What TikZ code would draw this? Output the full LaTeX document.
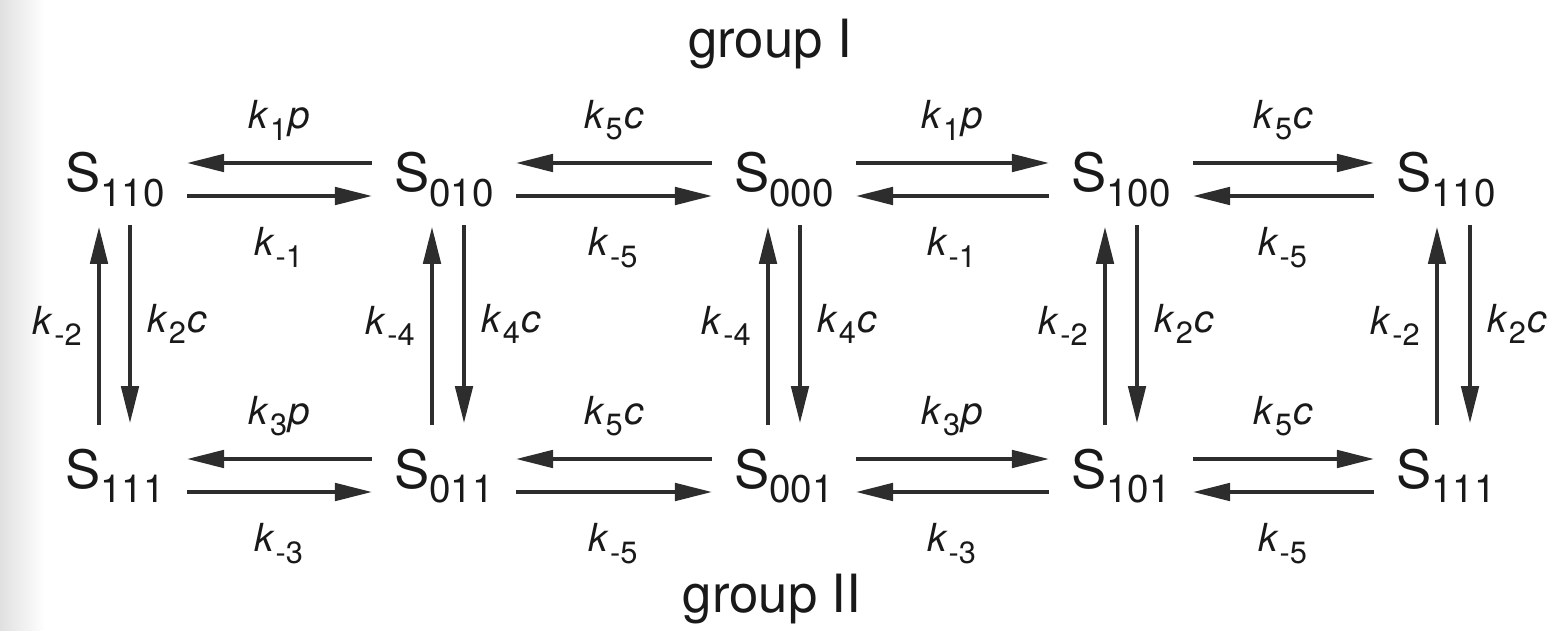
\documentclass[tikz,border=0pt]{standalone}
\usepackage{fontspec}
\setmainfont{TeX Gyre Heros}
\usetikzlibrary{positioning,arrows.meta}
\definecolor{inkgray}{RGB}{45,45,45}

% state S with lowered index
\newcommand{\stt}[1]{S\raisebox{-0.27em}{\fontsize{22}{22}\selectfont #1}}
% rate constant k_i (times p or c)
\newcommand{\rk}[2]{\textit{k}\kern0.5pt\raisebox{-0.3em}{\fontsize{17.5}{18}\selectfont #1}\kern1pt\textit{#2}}

\begin{document}
\begin{tikzpicture}[x=0.02cm, y=-0.02cm]
  \tikzset{
    state/.style={inner sep=0pt, anchor=base, text=black!90, font=\fontsize{30}{34}\selectfont},
    rate/.style={inner sep=0pt, text=black!90, font=\fontsize{22}{25}\selectfont},
    rx/.style={draw=inkgray, line width=1.8pt, -{Triangle[length=21pt, width=10pt]}},
    grouptitle/.style={anchor=base, text=black!90, font=\fontsize{30}{34}\selectfont}
  }
  \useasboundingbox (0,0) rectangle (1547,631);
  % scan shadow at the left edge
  \fill[left color=black!12, right color=white] (0,0) rectangle (45,631);

  % group I
  \node[state] (s110a) at (115,192)  {\stt{110}};
  \node[state] (s010)  at (444,192)  {\stt{010}};
  \node[state] (s000)  at (784,192)  {\stt{000}};
  \node[state] (s100)  at (1121,192) {\stt{100}};
  \node[state] (s110b) at (1446,192) {\stt{110}};

  % group II
  \node[state] (s111a) at (115,488)  {\stt{111}};
  \node[state] (s011)  at (444,488)  {\stt{011}};
  \node[state] (s001)  at (784,488)  {\stt{001}};
  \node[state] (s101)  at (1121,488) {\stt{101}};
  \node[state] (s111b) at (1446,488) {\stt{111}};

  \node[grouptitle] (gI)  at (770,58)  {group I};
  \node[grouptitle] (gII) at (772,612) {group II};

  % top row
  \draw[rx] ([shift={(-22,-29)}]s010.base west) -- node[rate, above=12pt] {\rk{1}{p}} ([shift={(22,-29)}]s110a.base east);
  \draw[rx] ([shift={(22,4)}]s110a.base east) -- node[rate, below=17pt] {\rk{-1}{}} ([shift={(-22,4)}]s010.base west);
  \draw[rx] ([shift={(-22,-29)}]s000.base west) -- node[rate, above=12pt] {\rk{5}{c}} ([shift={(22,-29)}]s010.base east);
  \draw[rx] ([shift={(22,4)}]s010.base east) -- node[rate, below=17pt] {\rk{-5}{}} ([shift={(-22,4)}]s000.base west);
  \draw[rx] ([shift={(22,-29)}]s000.base east) -- node[rate, above=12pt] {\rk{1}{p}} ([shift={(-22,-29)}]s100.base west);
  \draw[rx] ([shift={(-22,4)}]s100.base west) -- node[rate, below=17pt] {\rk{-1}{}} ([shift={(22,4)}]s000.base east);
  \draw[rx] ([shift={(22,-29)}]s100.base east) -- node[rate, above=12pt] {\rk{5}{c}} ([shift={(-22,-29)}]s110b.base west);
  \draw[rx] ([shift={(-22,4)}]s110b.base west) -- node[rate, below=17pt] {\rk{-5}{}} ([shift={(22,4)}]s100.base east);

  % bottom row
  \draw[rx] ([shift={(-22,-29)}]s011.base west) -- node[rate, above=12pt] {\rk{3}{p}} ([shift={(22,-29)}]s111a.base east);
  \draw[rx] ([shift={(22,4)}]s111a.base east) -- node[rate, below=17pt] {\rk{-3}{}} ([shift={(-22,4)}]s011.base west);
  \draw[rx] ([shift={(-22,-29)}]s001.base west) -- node[rate, above=12pt] {\rk{5}{c}} ([shift={(22,-29)}]s011.base east);
  \draw[rx] ([shift={(22,4)}]s011.base east) -- node[rate, below=17pt] {\rk{-5}{}} ([shift={(-22,4)}]s001.base west);
  \draw[rx] ([shift={(22,-29)}]s001.base east) -- node[rate, above=12pt] {\rk{3}{p}} ([shift={(-22,-29)}]s101.base west);
  \draw[rx] ([shift={(-22,4)}]s101.base west) -- node[rate, below=17pt] {\rk{-3}{}} ([shift={(22,4)}]s001.base east);
  \draw[rx] ([shift={(22,-29)}]s101.base east) -- node[rate, above=12pt] {\rk{5}{c}} ([shift={(-22,-29)}]s111b.base west);
  \draw[rx] ([shift={(-22,4)}]s111b.base west) -- node[rate, below=17pt] {\rk{-5}{}} ([shift={(22,4)}]s101.base east);

  % columns
  \draw[rx] ([shift={(-16,-63)}]s111a.base) -- node[rate, left=8pt] {\rk{-2}{}} ([shift={(-16,35)}]s110a.base);
  \draw[rx] ([shift={(15,33)}]s110a.base) -- node[rate, right=9pt] {\rk{2}{c}} ([shift={(15,-65)}]s111a.base);
  \draw[rx] ([shift={(-12,-63)}]s011.base) -- node[rate, left=8pt] {\rk{-4}{}} ([shift={(-12,35)}]s010.base);
  \draw[rx] ([shift={(20,33)}]s010.base) -- node[rate, right=9pt] {\rk{4}{c}} ([shift={(20,-65)}]s011.base);
  \draw[rx] ([shift={(-16,-63)}]s001.base) -- node[rate, left=8pt] {\rk{-4}{}} ([shift={(-16,35)}]s000.base);
  \draw[rx] ([shift={(16,33)}]s000.base) -- node[rate, right=9pt] {\rk{4}{c}} ([shift={(16,-65)}]s001.base);
  \draw[rx] ([shift={(-16,-63)}]s101.base) -- node[rate, left=8pt] {\rk{-2}{}} ([shift={(-16,35)}]s100.base);
  \draw[rx] ([shift={(16,33)}]s100.base) -- node[rate, right=9pt] {\rk{2}{c}} ([shift={(16,-65)}]s101.base);
  \draw[rx] ([shift={(-9,-63)}]s111b.base) -- node[rate, left=8pt] {\rk{-2}{}} ([shift={(-9,35)}]s110b.base);
  \draw[rx] ([shift={(24,33)}]s110b.base) -- node[rate, right=9pt] {\rk{2}{c}} ([shift={(24,-65)}]s111b.base);
\end{tikzpicture}
\end{document}
